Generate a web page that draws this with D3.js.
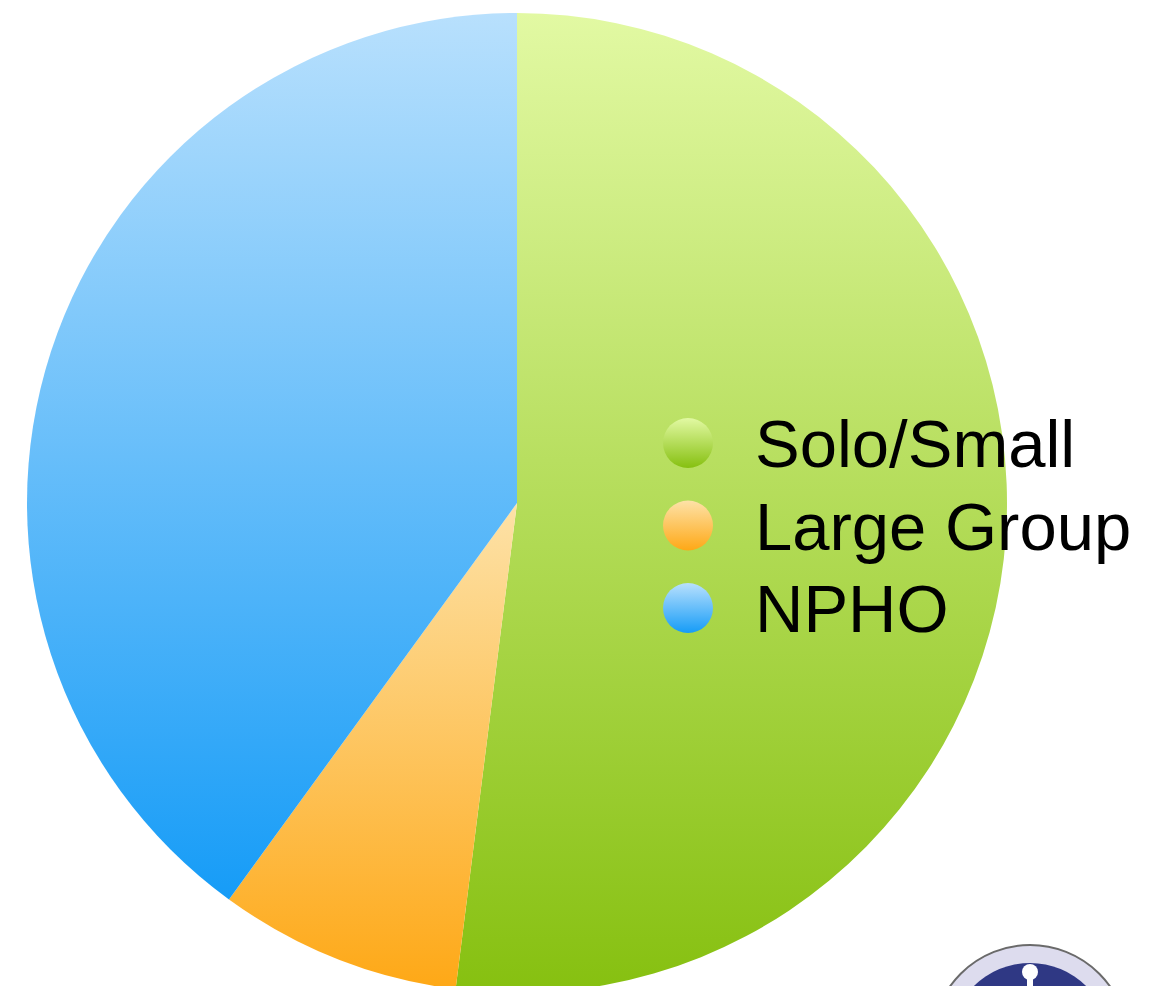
<!DOCTYPE html>
<html>
<head>
<meta charset="utf-8">
<script src="https://cdn.jsdelivr.net/npm/d3@7"></script>
<style>
  html, body { margin: 0; padding: 0; background: #fff; overflow: hidden; }
</style>
</head>
<body>
<div id="chart"></div>
<script>
// data (share of total, percent)
let categories = ['Solo/Small', 'Large Group', 'NPHO'];
let values = [52, 8, 40];
// light (top) and dark (bottom) colour per slice
let lightColors = ['#e2f9a3', '#fde2a8', '#b8e0fd'];
let darkColors = ['#86c010', '#fea816', '#169cf7'];

let width = 1162,
    height = 986,
    cx = 517,
    cy = 503,
    radius = 490;

let svg = d3.select('#chart').append('svg')
    .attr('width', width)
    .attr('height', height);

let defs = svg.append('defs');

// vertical gradient for each slice (bounding box of the slice)
categories.forEach((c, i) => {
    let g = defs.append('linearGradient')
        .attr('id', 'grad' + i)
        .attr('x1', 0).attr('y1', 0)
        .attr('x2', 0).attr('y2', 1);
    g.append('stop').attr('offset', '0%').attr('stop-color', lightColors[i]);
    g.append('stop').attr('offset', '100%').attr('stop-color', darkColors[i]);
});

let pie = d3.pie().sort(null).value((d) => d);
let arc = d3.arc().innerRadius(0).outerRadius(radius);

let grp = svg.append('g')
    .attr('transform', 'translate(' + cx + ',' + cy + ')');

grp.selectAll('path')
    .data(pie(values))
    .enter()
    .append('path')
        .attr('d', arc)
        .attr('fill', (d, i) => 'url(#grad' + i + ')');

// legend
let legend = svg.append('g')
    .attr('transform', 'translate(688, 443)');

let item = legend.selectAll('g')
    .data(categories)
    .enter()
    .append('g')
    .attr('transform', (d, i) => 'translate(0,' + 82.5 * i + ')');

item.append('circle')
    .attr('r', 25)
    .attr('fill', (d, i) => 'url(#grad' + i + ')');

item.append('text')
    .attr('x', 67)
    .attr('y', 24)
    .attr('font-family', 'Liberation Sans, Arial, sans-serif')
    .attr('font-size', 67)
    .attr('fill', '#000')
    .text((d) => d);

// logo in the bottom right corner (partly cut off)
let logo = svg.append('g')
    .attr('transform', 'translate(1030, 1043)');
logo.append('circle').attr('r', 98).attr('fill', '#dddcee')
    .attr('stroke', '#6a6a6a').attr('stroke-width', 2);
logo.append('circle').attr('r', 80).attr('fill', '#2f3884');
logo.append('circle').attr('cx', 0).attr('cy', -71).attr('r', 8).attr('fill', '#fff');
logo.append('rect').attr('x', -3).attr('y', -66).attr('width', 6).attr('height', 30).attr('fill', '#fff');
</script>
</body>
</html>
